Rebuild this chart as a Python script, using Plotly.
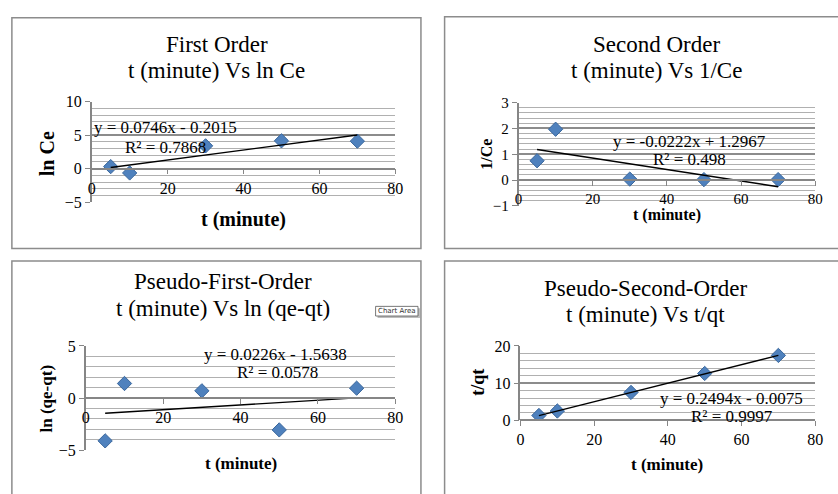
import plotly.graph_objects as go

W, H = 838, 494

# ---- data ----
t_minutes = [5, 10, 30, 50, 70]
ln_ce = [0.3, -0.65, 3.4, 4.15, 4.1]
inv_ce = [0.75, 1.97, 0.04, 0.02, 0.02]
ln_qe_qt = [-4.1, 1.4, 0.7, -3.05, 0.95]
t_over_qt = [1.3, 2.5, 7.5, 12.6, 17.45]
series = [ln_ce, inv_ce, ln_qe_qt, t_over_qt]

slopes = [0.0746, -0.0222, 0.0226, 0.2494]
intercepts = [-0.2015, 1.2967, -1.5638, -0.0075]
eq_labels = ["y = 0.0746x - 0.2015", "y = -0.0222x + 1.2967",
             "y = 0.0226x - 1.5638", "y = 0.2494x - 0.0075"]
r2_labels = ["R² = 0.7868", "R² = 0.498", "R² = 0.0578", "R² = 0.9997"]
titles1 = ["First Order", "Second Order", "Pseudo-First-Order", "Pseudo-Second-Order"]
titles2 = ["t (minute) Vs ln Ce", "t (minute) Vs 1/Ce",
           "t (minute) Vs ln (qe-qt)", "t (minute) Vs t/qt"]
y_titles = ["ln Ce", "1/Ce", "ln (qe-qt)", "t/qt"]
x_title = "t (minute)"
x_range = [0, 80]
x_dtick = 20
y_ranges = [[-5, 10], [-1, 3], [-5, 5], [0, 20]]
y_dticks = [5, 1, 5, 10]
y_minor = [1, 0.2, 1, 2]

# ---- layout in pixels ----
panels = [
    dict(box=(8, 10, 423, 249), px=(89, 397), py=(97, 201), tx=216, t1=38, t2=65,
         yt=(43, 151, 20), xt=(243, 219, 20), eq=(164, 124), r2=(164, 144), tf=16),
    dict(box=(447, 9, 850, 249), px=(522, 823), py=(98, 205), tx=662, t1=38, t2=65,
         yt=(490, 151, 16), xt=(673, 214, 16), eq=(695, 138), r2=(695, 157), tf=15),
    dict(box=(8, 262, 423, 510), px=(83, 397), py=(350, 458), tx=222, t1=283, t2=311,
         yt=(43, 404, 17), xt=(240, 472, 17), eq=(275, 359), r2=(277, 378), tf=16),
    dict(box=(447, 262, 850, 510), px=(524, 823), py=(350, 427), tx=651, t1=290, t2=317,
         yt=(481, 388, 18), xt=(673, 473, 17), eq=(738, 404), r2=(739, 423), tf=16),
]


def fx(p):
    return p / W


def fy(p):
    return 1 - p / H


SERIF = "Times New Roman, Liberation Serif, DejaVu Serif, serif"
GRAY = "#868686"

fig = go.Figure()
shapes = []
annotations = []

for i, pn in enumerate(panels):
    n = i + 1
    xa = "x" if n == 1 else f"x{n}"
    ya = "y" if n == 1 else f"y{n}"
    xkey = "xaxis" if n == 1 else f"xaxis{n}"
    ykey = "yaxis" if n == 1 else f"yaxis{n}"

    y0, y1 = y_ranges[i]
    ydom = [fy(pn["py"][1]), fy(pn["py"][0])]
    # paper position of the value 0 on the y axis (where x axis crosses)
    pos0 = ydom[0] + (0 - y0) / (y1 - y0) * (ydom[1] - ydom[0])

    fig.add_trace(go.Scatter(
        x=t_minutes, y=series[i], mode="markers", xaxis=xa, yaxis=ya,
        marker=dict(symbol="diamond", size=11, color="#4F81BD",
                    line=dict(color="#3A679C", width=1)),
        showlegend=False, hoverinfo="x+y"))
    tx = [min(t_minutes), max(t_minutes)]
    fig.add_trace(go.Scatter(
        x=tx, y=[slopes[i] * v + intercepts[i] for v in tx], mode="lines",
        xaxis=xa, yaxis=ya, line=dict(color="black", width=1.4),
        showlegend=False, hoverinfo="skip"))

    fig.layout[xkey] = dict(
        domain=[fx(pn["px"][0]), fx(pn["px"][1])], range=x_range, dtick=x_dtick,
        anchor="free", position=pos0, showgrid=False, zeroline=False,
        showline=True, linecolor=GRAY, linewidth=1.5, ticks="outside", ticklen=5,
        tickcolor=GRAY, tickfont=dict(family=SERIF, size=pn["tf"], color="black"),
        fixedrange=True)
    fig.layout[ykey] = dict(
        domain=ydom, range=y_ranges[i], dtick=y_dticks[i], anchor=xa,
        showgrid=True, gridcolor="#8c8c8c", gridwidth=1.5, zeroline=False,
        showline=True, linecolor=GRAY, linewidth=1.5, ticks="outside", ticklen=5,
        tickcolor=GRAY, tickfont=dict(family=SERIF, size=pn["tf"], color="black"),
        minor=dict(dtick=y_minor[i], showgrid=True, gridcolor="#b0b0b0", gridwidth=1.3),
        fixedrange=True)

    bx0, by0, bx1, by1 = pn["box"]
    shapes.append(dict(type="rect", xref="paper", yref="paper",
                       x0=fx(bx0), x1=fx(bx1), y0=fy(by1), y1=fy(by0),
                       line=dict(color="#8c8c8c", width=1.5), layer="above"))

    for txt, yy in ((titles1[i], pn["t1"]), (titles2[i], pn["t2"])):
        annotations.append(dict(text=txt, x=fx(pn["tx"]), y=fy(yy), xref="paper",
                                yref="paper", xanchor="center", yanchor="middle",
                                showarrow=False,
                                font=dict(family=SERIF, size=23, color="black")))
    ytx, yty, yts = pn["yt"]
    annotations.append(dict(text=f"<b>{y_titles[i]}</b>", x=fx(ytx), y=fy(yty),
                            xref="paper", yref="paper", xanchor="center",
                            yanchor="middle", showarrow=False, textangle=-90,
                            font=dict(family=SERIF, size=yts, color="black")))
    xtx, xty, xts = pn["xt"]
    annotations.append(dict(text=f"<b>{x_title}</b>", x=fx(xtx), y=fy(xty),
                            xref="paper", yref="paper", xanchor="center",
                            yanchor="middle", showarrow=False,
                            font=dict(family=SERIF, size=xts, color="black")))
    for txt, (ax, ay) in ((eq_labels[i], pn["eq"]), (r2_labels[i], pn["r2"])):
        annotations.append(dict(text=txt, x=fx(ax), y=fy(ay), xref="paper",
                                yref="paper", xanchor="center", yanchor="middle",
                                showarrow=False,
                                font=dict(family=SERIF, size=17, color="black")))

# "Chart Area" tooltip
shapes.append(dict(type="rect", xref="paper", yref="paper",
                   x0=fx(379), x1=fx(422), y0=fy(321), y1=fy(311),
                   fillcolor="#bdbdbd", line=dict(width=0), layer="above"))
shapes.append(dict(type="rect", xref="paper", yref="paper",
                   x0=fx(377), x1=fx(420), y0=fy(319), y1=fy(309),
                   fillcolor="white", line=dict(color="#555555", width=0.8),
                   layer="above"))
annotations.append(dict(text="Chart Area", x=fx(398.5), y=fy(314), xref="paper",
                        yref="paper", xanchor="center", yanchor="middle",
                        showarrow=False,
                        font=dict(family="DejaVu Sans", size=7, color="#333333")))

fig.update_layout(width=W, height=H, margin=dict(l=0, r=0, t=0, b=0),
                  paper_bgcolor="white", plot_bgcolor="white",
                  shapes=shapes, annotations=annotations, showlegend=False)

fig.write_html("out.html")
